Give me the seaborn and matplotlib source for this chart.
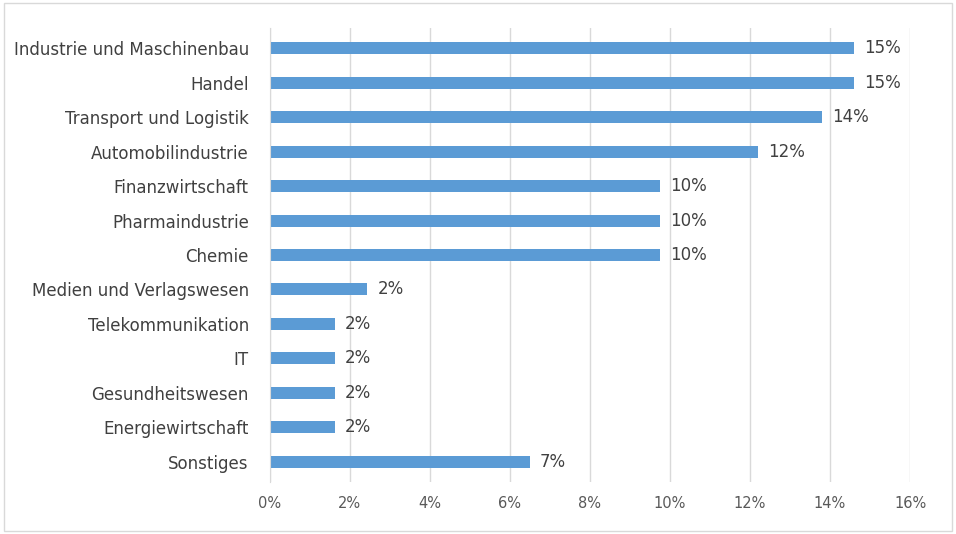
import matplotlib
matplotlib.use("Agg")
import matplotlib.pyplot as plt
import seaborn as sns
import pandas as pd
from matplotlib.ticker import FuncFormatter

categories = ["Industrie und Maschinenbau", "Handel", "Transport und Logistik", "Automobilindustrie",
              "Finanzwirtschaft", "Pharmaindustrie", "Chemie", "Medien und Verlagswesen",
              "Telekommunikation", "IT", "Gesundheitswesen", "Energiewirtschaft", "Sonstiges"]
values = [14.6, 14.6, 13.8, 12.2, 9.75, 9.75, 9.75, 2.44, 1.63, 1.63, 1.63, 1.63, 6.5]
labels = ["15%", "15%", "14%", "12%", "10%", "10%", "10%", "2%", "2%", "2%", "2%", "2%", "7%"]

df = pd.DataFrame({"cat": categories, "val": values})
fig = plt.figure(figsize=(9.56, 5.34), dpi=100)
ax = fig.add_axes([0.282, 0.097, 0.670, 0.851])
sns.barplot(data=df, x="val", y="cat", color="#5B9BD5", width=0.35, ax=ax, saturation=1)
for i, (v, l) in enumerate(zip(values, labels)):
    ax.text(v + 0.25, i, l, va="center", ha="left", fontsize=12, color="#404040")
ax.set_xlim(0, 16)
ax.set_ylim(12.6, -0.6)
ax.set_xticks(range(0, 17, 2))
ax.xaxis.set_major_formatter(FuncFormatter(lambda x, p: f"{int(x)}%"))
ax.grid(axis="x", color="#D9D9D9", linewidth=1)
ax.set_axisbelow(True)
for s in ["top", "right", "bottom"]:
    ax.spines[s].set_visible(False)
ax.spines["left"].set_color("#D9D9D9")
ax.tick_params(axis="x", length=0, labelsize=10.5, labelcolor="#595959", pad=10)
ax.tick_params(axis="y", length=0, labelsize=12, labelcolor="#404040", pad=15)
ax.set_xlabel("")
ax.set_ylabel("")
fig.patches.append(plt.Rectangle((0.004, 0.006), 0.992, 0.988, transform=fig.transFigure,
                                 fill=False, edgecolor="#D9D9D9", linewidth=1))
fig.savefig("out.png", dpi=100)
